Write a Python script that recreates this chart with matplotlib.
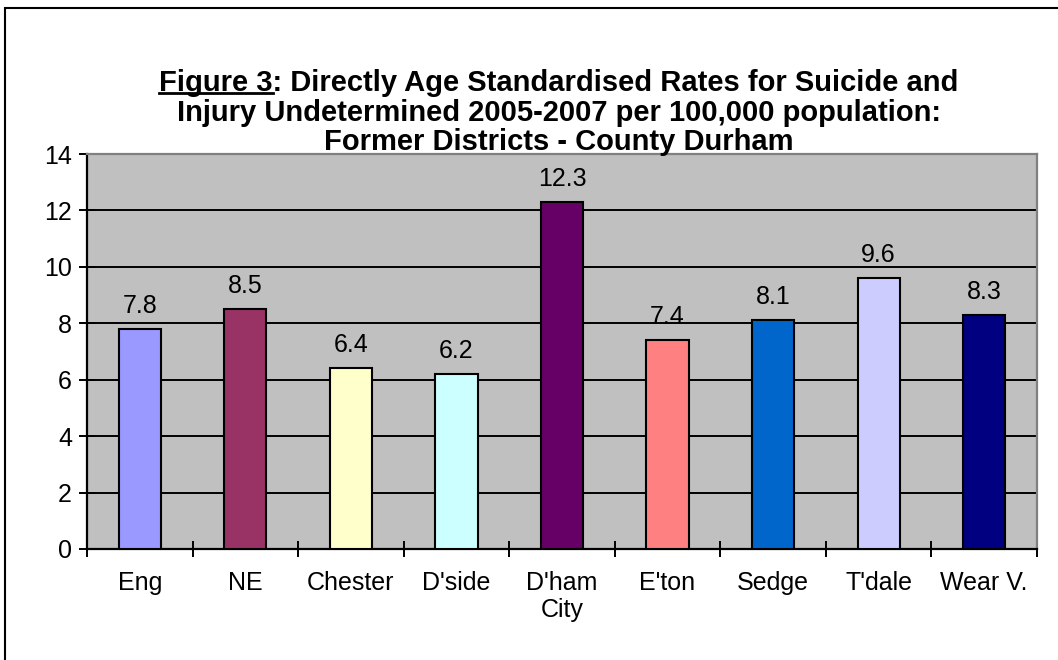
import matplotlib
matplotlib.use("Agg")
import matplotlib.pyplot as plt
from matplotlib.patches import Rectangle
from matplotlib.lines import Line2D

plt.rcParams['font.family'] = ['Liberation Sans', 'DejaVu Sans']

# data
districts = ["Eng", "NE", "Chester", "D'side", "D'ham\nCity", "E'ton", "Sedge", "T'dale", "Wear V."]
rates = [7.8, 8.5, 6.4, 6.2, 12.3, 7.4, 8.1, 9.6, 8.3]
bar_colors = ["#9999FF", "#993366", "#FFFFCC", "#CCFFFF", "#660066",
              "#FF8080", "#0066CC", "#CCCCFF", "#000080"]
yticks = [0, 2, 4, 6, 8, 10, 12, 14]
title_lines = ["Figure 3: Directly Age Standardised Rates for Suicide and",
               "Injury Undetermined 2005-2007 per 100,000 population:",
               "Former Districts - County Durham"]

W, H = 1058, 660
fig = plt.figure(figsize=(W / 100, H / 100), dpi=100)
fig.patch.set_facecolor("white")

# outer chart border (only top and left show in the picture)
fig.patches.append(Rectangle((5 / W, -0.2), 2, 1 - 8 / H + 0.2, transform=fig.transFigure,
                             fill=False, edgecolor="black", linewidth=1.5))

ax = fig.add_axes([87 / W, 1 - 549 / H, (1037 - 87) / W, (549 - 154) / H])
ax.set_facecolor("#C0C0C0")
x = list(range(len(rates)))
rects = ax.bar(x, rates, 0.4, color=bar_colors, edgecolor="black", linewidth=1.5, zorder=3)

for rect in rects:
    h = rect.get_height()
    ax.annotate('{}'.format(h), xy=(rect.get_x() + rect.get_width() / 2, h),
                xytext=(0, 8), textcoords="offset points",
                ha='center', va='bottom', fontsize=18)

ax.set_xlim(-0.5, len(rates) - 0.5)
ax.set_ylim(0, 14)
ax.set_yticks(yticks)
ax.yaxis.grid(True, color="black", linewidth=1.4, zorder=1)
ax.set_axisbelow(True)
ax.set_xticks(x)
ax.set_xticklabels(districts, fontsize=18, linespacing=1.15)
ax.set_xticks([i - 0.5 for i in range(len(rates) + 1)], minor=True)
ax.tick_params(axis='x', which='major', length=0, pad=16)
ax.tick_params(axis='x', which='minor', direction='inout', length=11.5, width=1.4)
ax.tick_params(axis='y', direction='inout', length=11.5, width=1.4, labelsize=18, pad=5)

for s in ["left", "bottom"]:
    ax.spines[s].set_color("black")
    ax.spines[s].set_linewidth(1.6)
for s in ["top", "right"]:
    ax.spines[s].set_color("#808080")
    ax.spines[s].set_linewidth(1.6)

# title, three centred lines, "Figure 3" underlined
cx = 559 / W
ys = [83, 113, 142]
texts = []
for line, yp in zip(title_lines, ys):
    texts.append(fig.text(cx, 1 - yp / H, line, ha='center', va='center',
                          fontsize=21, fontweight='bold'))
fig.canvas.draw()
r = fig.canvas.get_renderer()
bb = texts[0].get_window_extent(r)
tmp = fig.text(bb.x0 / W, 1 - ys[0] / H, "Figure 3", ha='left', va='center',
               fontsize=21, fontweight='bold')
bb2 = tmp.get_window_extent(r)
tmp.remove()
uy = (bb2.y0 + 4) / H
fig.add_artist(Line2D([bb2.x0 / W, bb2.x1 / W], [uy, uy], transform=fig.transFigure,
                      color="black", linewidth=2))

plt.savefig("out.png", dpi=100)
